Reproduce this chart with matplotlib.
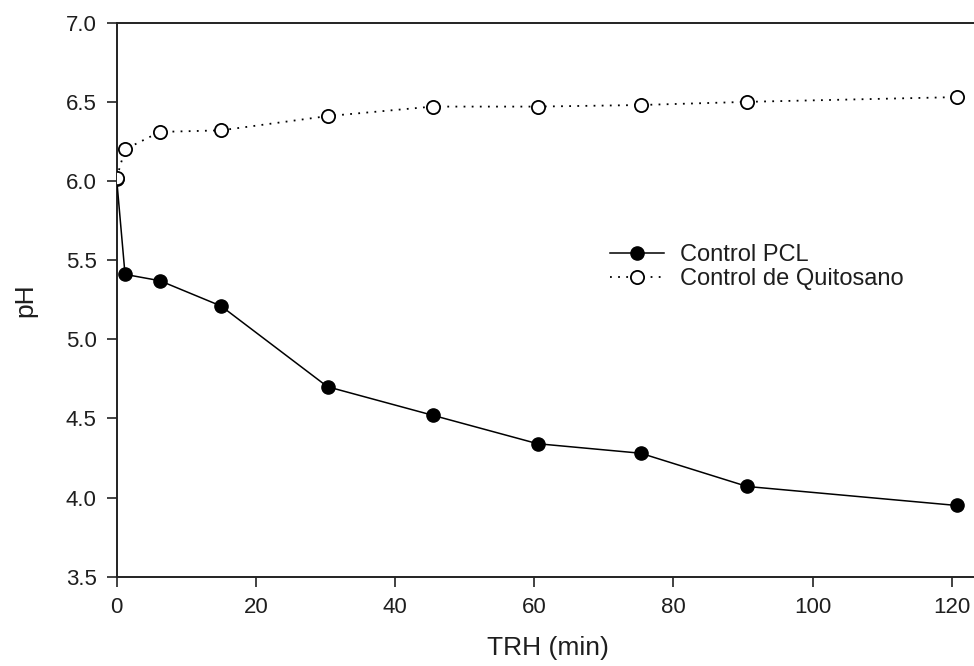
import numpy as np
import matplotlib.pyplot as plt

plt.rcParams['font.family'] = ['Liberation Sans', 'DejaVu Sans']

# Sampling times (min) and pH readings
trh = [0, 1.2, 6.2, 15, 30.3, 45.4, 60.5, 75.3, 90.6, 120.7]
ph_pcl = [6.01, 5.41, 5.37, 5.21, 4.70, 4.52, 4.34, 4.28, 4.07, 3.95]
ph_quitosano = [6.02, 6.20, 6.31, 6.32, 6.41, 6.47, 6.47, 6.48, 6.50, 6.53]

xticks = [0, 20, 40, 60, 80, 100, 120]
yticks = np.arange(3.5, 7.01, 0.5)

textColor = '#1e1e1e'
spineColor = '#222222'

fig = plt.figure(figsize=(9.74, 6.66), dpi=100)
ax = fig.add_axes([0.1198, 0.1341, 0.8802, 0.8318])

ax.plot(trh, ph_pcl, color='black', lw=1.1, marker='o', ms=9.5,
        mfc='black', mec='black', label='Control PCL', zorder=3)
ax.plot(trh, ph_quitosano, color='black', lw=1.3, ls=(0, (1, 3.5)), marker='o', ms=9.5,
        mfc='white', mec='black', mew=1.3, label='Control de Quitosano', zorder=4)

ax.set_xlim(0, 123.2)
ax.set_ylim(3.5, 7.0)
ax.set_xticks(xticks)
ax.set_yticks(yticks)
ax.set_yticklabels([f'{v:.1f}' for v in yticks])

# Spines: left, bottom and top; no right frame
ax.spines['right'].set_visible(False)
for side in ('left', 'bottom', 'top'):
    ax.spines[side].set_color(spineColor)
    ax.spines[side].set_linewidth(1.4)

ax.tick_params(direction='out', length=7.5, width=1.2, color=spineColor,
               labelsize=16, labelcolor=textColor, pad=7, top=False, right=False)

ax.set_xlabel('TRH (min)', fontsize=19, color=textColor, va='center')
ax.set_ylabel('pH', fontsize=19, color=textColor, va='center')
ax.xaxis.set_label_coords(0.503, -0.128)
ax.yaxis.set_label_coords(-0.107, 0.5)

ax.legend(loc='upper left', bbox_to_anchor=(0.5756, 0.6005), frameon=False,
          fontsize=17, handlelength=2.3, handletextpad=0.65, borderpad=0,
          borderaxespad=0, labelspacing=0.1, labelcolor=textColor)

fig.savefig('out.png', dpi=100)
